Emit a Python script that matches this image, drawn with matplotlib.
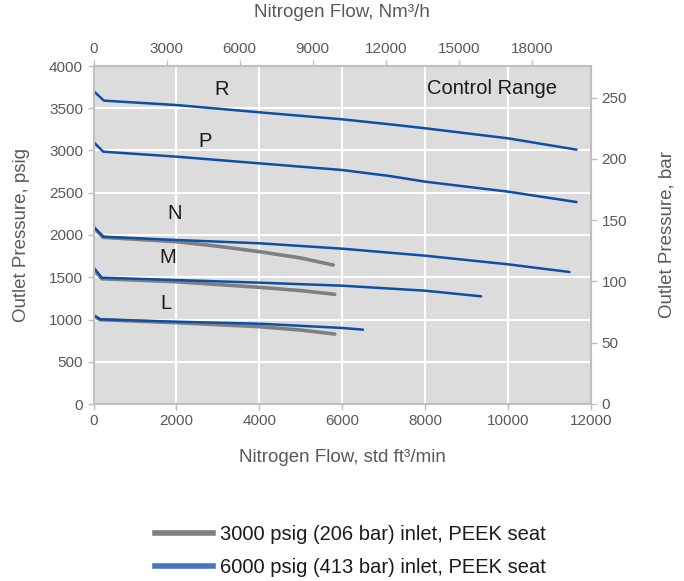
import matplotlib
matplotlib.use("Agg")
import matplotlib.pyplot as plt
from matplotlib.lines import Line2D

# =========================
# Datos
# =========================
# curvas 6000 psig inlet (azul)
R_FLOW = [0, 253, 2000, 4000, 6000, 7145, 8000, 10000, 11650]
R_PSIG = [3704, 3590, 3538, 3452, 3369, 3310, 3263, 3144, 3010]

P_FLOW = [0, 236, 2000, 4000, 6000, 7145, 8000, 10000, 11650]
P_PSIG = [3100, 2986, 2927, 2848, 2769, 2698, 2631, 2513, 2390]

N_FLOW = [0, 236, 2000, 4000, 6000, 8000, 10000, 11480]
N_PSIG = [2098, 1980, 1941, 1902, 1838, 1755, 1653, 1562]

M_FLOW = [0, 197, 2000, 4000, 6000, 8000, 9350]
M_PSIG = [1617, 1495, 1467, 1436, 1400, 1341, 1274]

L_FLOW = [0, 157, 2000, 4000, 6000, 6500]
L_PSIG = [1053, 1002, 974, 950, 900, 880]

# curvas 3000 psig inlet (gris)
N3_FLOW = [0, 236, 2000, 3000, 4000, 5000, 5780]
N3_PSIG = [2090, 1972, 1921, 1867, 1803, 1728, 1645]

M3_FLOW = [0, 197, 2000, 4000, 5000, 5820]
M3_PSIG = [1600, 1482, 1447, 1381, 1342, 1298]

L3_FLOW = [0, 157, 2000, 4000, 5000, 5820]
L3_PSIG = [1045, 998, 962, 915, 875, 828]

CURVE_LABELS = ["R", "P", "N", "M", "L"]
LABEL_X = [3096, 2690, 1964, 1795, 1747]
LABEL_Y = [3716, 3112, 2249, 1728, 1195]

LEGEND_TEXT = ["3000 psig (206 bar) inlet, PEEK seat",
               "6000 psig (413 bar) inlet, PEEK seat"]

SCFM_TO_NM3H = 1.703
PSI_PER_BAR = 14.5

# =========================
# Estilo
# =========================
plt.rcParams["font.family"] = ["Liberation Sans", "DejaVu Sans"]
BLUE = "#0d4ea6"
GRAY = "#7f7f7f"
LEG_BLUE = "#4a74c0"
TXT = "#595959"
SPINE = "#bfbfbf"
TICK_FS = 11
LABEL_FS = 13.5

fig = plt.figure(figsize=(6.84, 5.81), dpi=100)
ax = fig.add_axes([93.5 / 684, 1 - 404 / 581, (591 - 93.5) / 684, (404 - 66) / 581])

ax.set_facecolor("#dcdcdc")
ax.set_xlim(0, 12000)
ax.set_ylim(0, 4000)
ax.set_xticks(range(0, 12001, 2000))
ax.set_yticks(range(0, 4001, 500))
ax.grid(True, color="white", linewidth=1.5)
ax.set_axisbelow(True)

for s in ax.spines.values():
    s.set_color(SPINE)
    s.set_linewidth(1.5)

ax.tick_params(colors=SPINE, labelcolor=TXT, labelsize=TICK_FS, length=4, width=1)

# gris primero, azul encima
for fx, py in [(N3_FLOW, N3_PSIG), (M3_FLOW, M3_PSIG), (L3_FLOW, L3_PSIG)]:
    ax.plot(fx, py, color=GRAY, linewidth=2.6, solid_capstyle="round")
for fx, py in [(R_FLOW, R_PSIG), (P_FLOW, P_PSIG), (N_FLOW, N_PSIG),
               (M_FLOW, M_PSIG), (L_FLOW, L_PSIG)]:
    ax.plot(fx, py, color=BLUE, linewidth=1.8, solid_capstyle="round")

for lab, lx, ly in zip(CURVE_LABELS, LABEL_X, LABEL_Y):
    ax.text(lx, ly, lab, fontsize=14.5, color="#1a1a1a", ha="center", va="center")
ax.text(9602, 3728, "Control Range", fontsize=14.5, color="#1a1a1a",
        ha="center", va="center")

ax.set_xlabel("Nitrogen Flow, std ft³/min", fontsize=LABEL_FS, color=TXT, labelpad=15)
ax.set_ylabel("Outlet Pressure, psig", fontsize=LABEL_FS, color=TXT, labelpad=14)

# eje superior (Nm3/h)
top = ax.secondary_xaxis("top", functions=(lambda x: x * SCFM_TO_NM3H,
                                           lambda x: x / SCFM_TO_NM3H))
top.set_xticks(range(0, 18001, 3000))
top.tick_params(colors=SPINE, labelcolor=TXT, labelsize=TICK_FS, length=4, width=1)
top.spines["top"].set_color(SPINE)
top.set_xlabel("Nitrogen Flow, Nm³/h", fontsize=LABEL_FS, color=TXT, labelpad=18)

# eje derecho (bar)
right = ax.secondary_yaxis("right", functions=(lambda p: p / PSI_PER_BAR,
                                               lambda b: b * PSI_PER_BAR))
right.set_yticks(range(0, 251, 50))
right.tick_params(colors=SPINE, labelcolor=TXT, labelsize=TICK_FS, length=4, width=1)
right.spines["right"].set_color(SPINE)
right.set_ylabel("Outlet Pressure, bar", fontsize=LABEL_FS, color=TXT, labelpad=23)

# leyenda
handles = [Line2D([], [], color=GRAY, linewidth=4),
           Line2D([], [], color=LEG_BLUE, linewidth=4)]
fig.legend(handles, LEGEND_TEXT, loc="center", bbox_to_anchor=(0.512, 0.052),
           frameon=False, fontsize=14.5, handlelength=2.9, handletextpad=0.35,
           labelspacing=0.7, labelcolor="#1a1a1a")

fig.savefig("out.png", dpi=100)
